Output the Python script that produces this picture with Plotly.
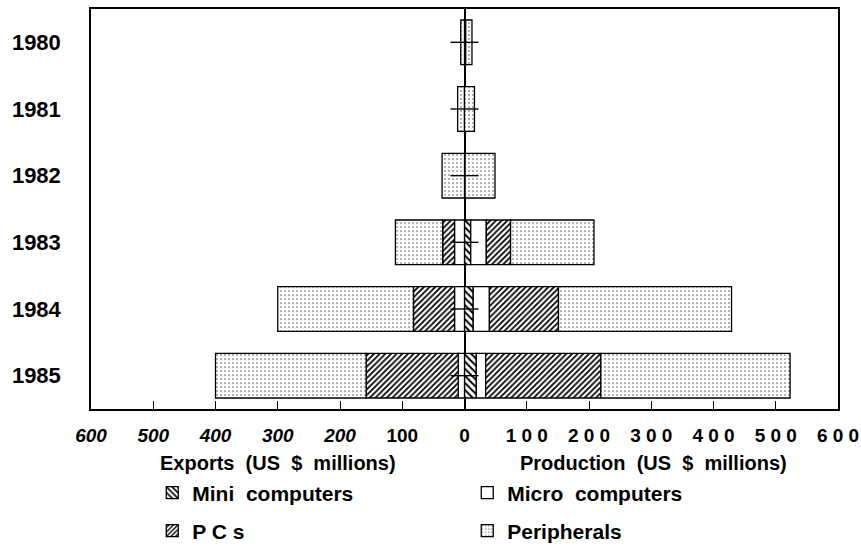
import plotly.graph_objects as go

# Years shown on the vertical axis (top to bottom)
years = ["1980", "1981", "1982", "1983", "1984", "1985"]

# Exports by product group (US $ millions), drawn to the left of zero
exports_mini = [0, 0, 0, 0, 0, 0]
exports_micro = [0, 0, 0, 16, 16, 10]
exports_pcs = [0, 0, 0, 19, 66, 148]
exports_peripherals = [6, 11, 36, 76, 218, 242]

# Production by product group (US $ millions), drawn to the right of zero
production_mini = [2, 0, 1, 10, 14, 19]
production_micro = [0, 0, 0, 25, 26, 15]
production_pcs = [0, 0, 0, 39, 111, 185]
production_peripherals = [10, 16, 48, 134, 278, 304]

# Axis tick values and their labels
tick_values = [-600, -500, -400, -300, -200, -100, 0, 100, 200, 300, 400, 500, 600]
tick_labels = ["<i>600</i>", "<i>500</i>", "<i>400</i>", "<i>300</i>", "<i>200</i>",
               "100", "0", "1 0 0", "2 0 0", "3 0 0", "4 0 0", "5 0 0", "6 0 0"]

FONT = "Liberation Sans, Arial, Helvetica, sans-serif"

styles = {
    "Mini computers": dict(fillmode="replace", shape="\\", fgcolor="black",
                           bgcolor="white", size=5, solidity=0.4),
    "Micro computers": dict(shape=""),
    "PCs": dict(fillmode="replace", shape="/", fgcolor="black",
                bgcolor="white", size=4, solidity=0.45),
    "Peripherals": dict(fillmode="replace", shape=".", fgcolor="#9a9a9a",
                        bgcolor="white", size=4, solidity=0.2),
}

series = [
    ("Mini\u00a0 computers", "Mini computers", exports_mini, production_mini, "legend"),
    ("Micro\u00a0 computers", "Micro computers", exports_micro, production_micro, "legend"),
    ("P C s", "PCs", exports_pcs, production_pcs, "legend2"),
    ("Peripherals", "Peripherals", exports_peripherals, production_peripherals, "legend2"),
]

fig = go.Figure()

for label, key, exp_vals, prod_vals, leg in series:
    marker = dict(color="white", line=dict(color="black", width=1.3),
                  pattern=styles[key])
    fig.add_trace(go.Bar(
        y=years, x=[-v for v in exp_vals], orientation="h",
        name=label, marker=marker, showlegend=False, legend=leg,
        hoverinfo="skip",
    ))
    fig.add_trace(go.Bar(
        y=years, x=prod_vals, orientation="h",
        name=label, marker=marker, showlegend=True, legend=leg,
    ))

# Small cross ticks on the central axis at each year
fig.add_trace(go.Scatter(
    x=[0] * len(years), y=years, mode="markers",
    marker=dict(symbol="line-ew", size=20, line=dict(color="black", width=1.4)),
    showlegend=False, hoverinfo="skip",
))

legend_common = dict(orientation="h", x=0.082, xanchor="left", yanchor="middle",
                     entrywidth=270, entrywidthmode="pixels", traceorder="normal",
                     font=dict(family=FONT, size=21, color="black", weight="bold"),
                     bgcolor="rgba(0,0,0,0)")

fig.update_layout(
    width=861, height=546,
    margin=dict(l=91, r=23, t=9, b=137, autoexpand=False),
    barmode="relative", bargap=0.33,
    plot_bgcolor="white", paper_bgcolor="white",
    font=dict(family=FONT, color="black"),
    legend=dict(legend_common, y=-0.21),
    legend2=dict(legend_common, y=-0.305),
)

fig.update_xaxes(
    range=[-600, 600], tickvals=tick_values, ticktext=tick_labels,
    ticks="inside", ticklen=8, tickwidth=1, tickcolor="black",
    tickfont=dict(family=FONT, size=19, color="black", weight="bold"),
    ticklabelstandoff=8,
    showgrid=False, zeroline=True, zerolinecolor="black", zerolinewidth=1.5,
    showline=True, linecolor="black", linewidth=2, mirror=True,
)
fig.update_yaxes(
    categoryorder="array", categoryarray=years, autorange="reversed",
    tickfont=dict(family=FONT, size=22, color="black", weight="bold"),
    ticks="", ticklabelstandoff=24,
    showgrid=False, showline=True, linecolor="black", linewidth=1.5, mirror=True,
)

title_font = dict(family=FONT, size=20, color="black", weight="bold")
fig.add_annotation(text="Exports\u00a0 (US\u00a0 $\u00a0 millions)", x=-299, xref="x",
                   y=-0.135, yref="paper", yanchor="middle", showarrow=False,
                   font=title_font)
fig.add_annotation(text="Production\u00a0 (US\u00a0 $\u00a0 millions)", x=304, xref="x",
                   y=-0.135, yref="paper", yanchor="middle", showarrow=False,
                   font=title_font)

fig.write_html("out.html")
